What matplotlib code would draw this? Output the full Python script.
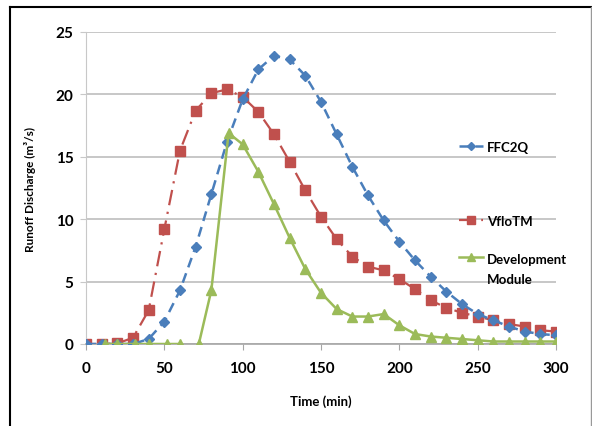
import numpy as np
import matplotlib.pyplot as plt
from matplotlib.lines import Line2D

time = list(range(0, 310, 10))
ffc2q = [0, 0, 0, 0, 0.4, 1.8, 4.3, 7.8, 12.0, 16.2, 19.6, 22.0, 23.1, 22.8, 21.5,
         19.4, 16.8, 14.2, 11.9, 9.9, 8.2, 6.7, 5.4, 4.2, 3.2, 2.4, 1.9, 1.4, 1.0, 0.8, 0.7]
vflotm = [0, 0, 0.05, 0.5, 2.7, 9.2, 15.5, 18.7, 20.1, 20.4, 19.8, 18.6, 16.8, 14.6, 12.3,
          10.2, 8.4, 7.0, 6.2, 5.9, 5.2, 4.4, 3.5, 2.9, 2.5, 2.2, 1.9, 1.6, 1.4, 1.1, 1.0]
dev_time = [12, 20, 31, 40, 52, 60, 66, 72, 80, 91, 100, 110, 120, 130, 140, 150, 160, 170,
            180, 190, 200, 210, 220, 230, 240, 250, 260, 270, 280, 290, 300]
dev = [0, 0, 0, 0, 0, 0, np.nan, 0, 4.3, 16.9, 16.0, 13.8, 11.2, 8.5, 6.0, 4.1, 2.8, 2.2,
       2.2, 2.4, 1.5, 0.8, 0.6, 0.5, 0.4, 0.3, 0.2, 0.2, 0.2, 0.2, 0.2]

labels = ['FFC2Q', 'VfloTM', 'Development\nModule']

plt.rcParams['font.family'] = ['Lato', 'DejaVu Sans']
plt.rcParams['font.weight'] = 'bold'

fig = plt.figure(figsize=(5.92, 4.27), dpi=100)
ax = fig.add_axes([86/592, 1-345/427, 470/592, 312/427])

blue, red, green = '#4a7ebb', '#c0504d', '#9bbb59'
l1, = ax.plot(time, ffc2q, color=blue, lw=1.8, ls=(0, (4, 2.5)),
              marker='D', ms=5, mec=blue, mfc=blue, zorder=3)
l2, = ax.plot(time, vflotm, color=red, lw=1.6, ls=(0, (7, 3, 1, 3)),
              marker='s', ms=7, mec=red, mfc=red, zorder=2)
l3, = ax.plot(dev_time, dev, color=green, lw=1.8, ls='-',
              marker='^', ms=6.5, mec=green, mfc=green, zorder=4)

ax.set_xlim(0, 300)
ax.set_ylim(0, 25)
ax.set_xticks(range(0, 301, 50))
ax.set_yticks(range(0, 26, 5))
ax.yaxis.grid(True, color='#bdbdbd', lw=1.2)
ax.set_axisbelow(True)
for s in ['top', 'right']:
    ax.spines[s].set_visible(False)
ax.spines['left'].set_color('#c8c8c8')
ax.spines['bottom'].set_color('#a6a6a6')
ax.spines['bottom'].set_linewidth(1.2)
ax.tick_params(axis='x', length=4, color='#a6a6a6', labelsize=11, pad=8)
ax.tick_params(axis='y', length=4, color='#c8c8c8', labelsize=11, pad=5)

ax.set_xlabel('Time (min)', fontsize=9.5, fontweight='bold', labelpad=14)
ax.set_ylabel('Runoff Discharge (m\u00b3/s)', fontsize=8.5, fontweight='bold', labelpad=14)

# one legend box per entry, stacked at the right like the original
ys = [148, 222, 270]
for h, lab, y in zip([l1, l2, l3], labels, ys):
    lg = fig.legend([h], [lab], loc='center left', bbox_to_anchor=(459/592, 1-y/427),
                    frameon=False, borderpad=0, borderaxespad=0, handlelength=1.8,
                    handletextpad=0.35, fontsize=9.5, markerscale=0.8)
    for t in lg.get_texts():
        t.set_linespacing(1.85)
    # keep the handle level with the first text line
    for row in lg._legend_handle_box.get_children():
        for hp in row.get_children():
            hp.align = 'top'

# page frame
fig.add_artist(Line2D([10/592, 10/592], [0, 1-8/427], color='black', lw=1.5))
fig.add_artist(Line2D([10/592, 1], [1-8/427, 1-8/427], color='black', lw=1.5))
fig.add_artist(Line2D([591/592, 591/592], [0, 1-8/427], color='#999999', lw=1))

plt.savefig('out.png', dpi=100)
